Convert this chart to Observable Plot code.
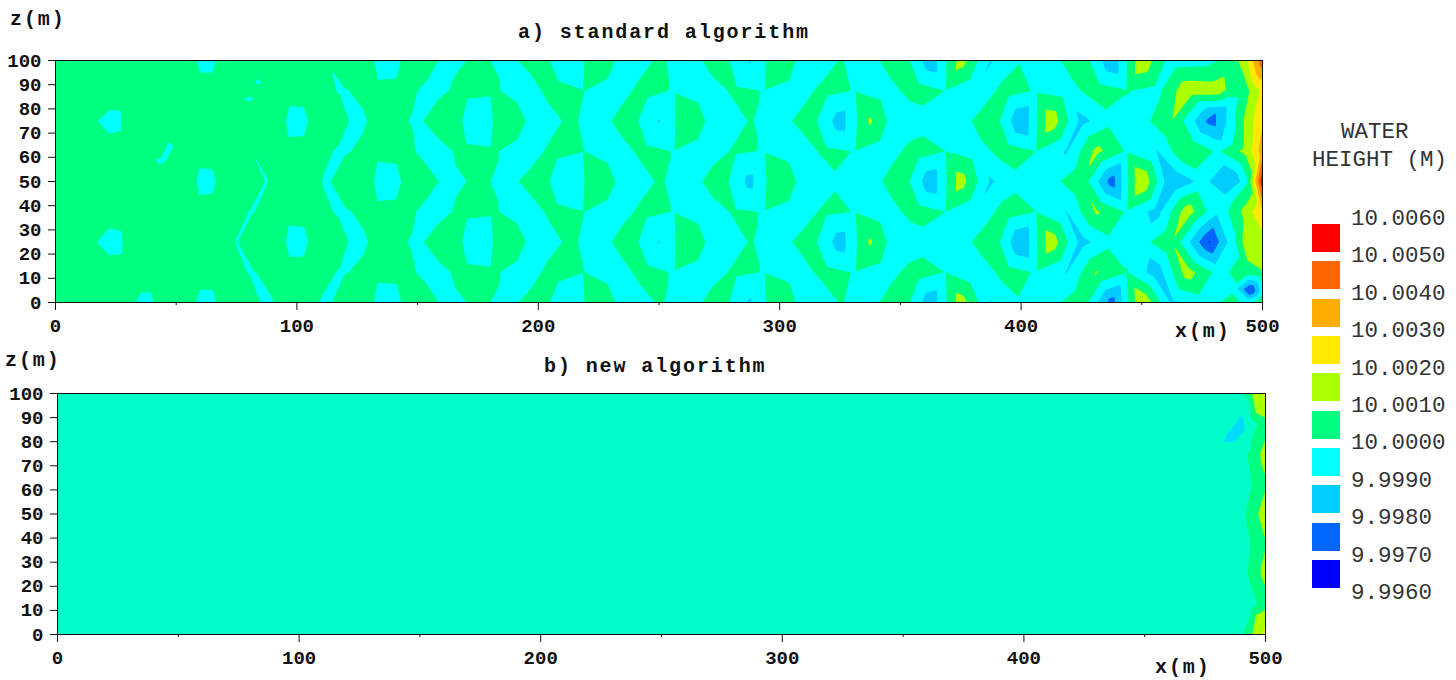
<!DOCTYPE html>
<html><head><meta charset="utf-8">
<script src="https://cdn.jsdelivr.net/npm/d3@7"></script>
<script src="https://cdn.jsdelivr.net/npm/@observablehq/plot@0.6"></script>
<style>
html,body{margin:0;padding:0;background:#fff}
#page{position:relative;width:1456px;height:680px;overflow:hidden;font-family:"Liberation Mono",monospace}
#page svg{position:absolute;background:transparent;font-family:"Liberation Mono",monospace;font-weight:bold}
.lab{position:absolute;font-weight:bold;font-size:20px;letter-spacing:1.9px;white-space:pre;line-height:20px;color:#111}
.leg{position:absolute;font-size:22.5px;line-height:22px;color:#333;white-space:pre}
.sw{position:absolute;left:1312px;width:28px;height:28px}
</style></head><body><div id="page"></div>
<script>
// Panel a: water height deviation from 10 m, in mm.
// Even rows (z = 0, 25, 50, 75, 100) sit on one column set, odd rows on a staggered one.
const evenX = [0,12.5,25,37.5,50,62.5,75,87.5,100,112.5,125,137.5,150,162.5,175,187.5,200,212.5,225,237.5,250,262.5,275,287.5,300,312.5,325,337.5,350,362.5,375,387.5,400,412.5,425,437.5,450,462.5,475,487.5,493.75,500];
const evenXDipole = [0,12.5,25,37.5,50,62.5,75,87.5,100,112.5,125,137.5,150,162.5,175,187.5,200,212.5,225,237.5,250,262.5,275,287.5,300,312.5,325,337.5,350,362.5,375,387.5,400,412.5,425,437.5,450,462.5,478,487.5,493.75,500];
const oddX = [0,6.25,18.75,31.25,43.75,56.25,68.75,81.25,93.75,106.25,118.75,131.25,143.75,156.25,168.75,181.25,193.75,206.25,218.75,231.25,243.75,256.25,268.75,281.25,293.75,306.25,318.75,331.25,343.75,356.25,368.75,381.25,393.75,406.25,418.75,431.25,443.75,456.25,468.75,481.25,493.75,500];
const z100 = [.3,.3,.3,.3,.45,-.2,.45,.4,.4,.05,.8,-.6,.75,-.33,.2,-.28,.55,-.85,.76,-.6,.15,-.44,.58,-1.1,.95,-.84,.05,-.35,.8,-1.7,1.5,-1.1,-.05,-.35,.72,-1.85,1.8,-.5,-.4,.35,2,4.7];
const z87 = [.3,.3,.25,.3,.4,.3,.3,.15,.35,.4,-.1,.35,.4,-.4,.35,.2,-.6,.4,.02,-.5,.32,-.07,-.6,.18,-.03,-.5,.3,-.05,-.5,.5,-.02,-.9,.45,-.1,-.45,.5,.05,-.3,1.7,1.6,.8,2.3];
const z75 = [.3,.1,-.15,.7,.5,.5,.5,.6,-.34,.6,-.22,.45,-.19,.86,-.93,.93,-.65,.17,-.37,.5,-1.06,.89,-.75,.05,-.32,.45,-1.51,1.15,-.95,-.5,-.47,.84,-1.95,1.7,-1.3,-.3,-.37,.98,-2.3,-.4,1.43,2.9];
const z62 = [.3,.3,.2,.3,.15,.25,.3,0,.3,.35,-.15,.35,.45,-.6,.3,.15,-.6,.28,.02,-.5,.25,-.03,-.6,.13,-.04,-.6,.2,-.03,-.6,.5,0,-.5,.5,0,-1.1,1.3,-.1,-1.05,1.03,-.15,1.45,3.6];
const z50 = [.3,.3,.3,.35,.41,-.2,.42,-.02,.5,-.1,.8,-.65,.78,-.33,.2,-.28,.53,-.85,.76,-.6,.1,-.44,.58,-1.3,1.02,-.84,-.1,-.5,.76,-1.72,1.5,-1.12,-.3,-.34,.78,-2.5,2.05,-1.95,-.7,-2.02,-.1,5.8];
const z37 = [.3,.3,.25,.35,.35,.25,.3,-.03,.3,.35,-.15,.35,.45,-.55,.3,.15,-.6,.28,.02,-.5,.25,-.03,-.6,.13,-.04,-.6,.2,-.03,-.6,.5,0,-.9,.5,0,-1.05,1.15,-.1,-1.4,1.6,-.85,1.5,3];
const z25 = [.3,.12,-.2,.7,.5,.5,-.02,.6,-.35,.6,-.25,.45,-.22,.86,-.93,.93,-.65,.17,-.37,.5,-1.06,.89,-.75,.05,-.32,.45,-1.51,1.15,-.95,-.5,-.47,.84,-2.02,1.7,-1.35,-.3,-.37,.92,-3.1,-.46,1.77,1.5];
const z12 = [.3,.3,.25,.3,.3,.3,.3,-.05,.35,.4,-.1,.35,.4,-.5,.35,.2,-.6,.4,.02,-.5,.32,-.07,-.6,.18,-.03,-.5,.3,-.05,-.5,.5,-.02,-.8,.45,-.1,-1.05,1.08,.05,-1.6,1.5,-.3,.5,.93];
const z0 = [.3,.3,.3,-.15,.45,-.22,.45,-.12,.4,-.15,.8,-.65,.78,-.33,.2,-.28,.53,-.85,.76,-.6,.1,-.44,.58,-1.15,.95,-.84,.05,-.35,.8,-1.7,1.5,-1.05,-.1,-.35,.72,-2.5,2,-1.2,-.5,.35,-.3,1.1];
// Irregular mesh points: thin patches, and near the outlet: [x, z, deviation]
const extraA = [[495,5,-3.1],[500,5,-.4],[487.5,6,-.2],[486,88,.8],[480.5,78,-2.05],[480.5,73,-2.05],[485,81,-1.05],[483,67,-1],[484,43.5,-.8],[43.5,58.5,-.06],[47,65,-.06],[80,84,-.06],[84,91,-.06]];

// Panel b: nearly flat except close to the right edge.
const bEvenX = [0,250,475,487.5,493.75,500];
const bOddX = [0,250,481.25,493.75,500];
const b100 = [0,0,.1,.2,.85,2.25];
const b87 = [0,0,.1,.3,.72];
const b75 = [0,0,.05,.1,.6,1.23];
const b62 = [0,0,.1,.45,.92];
const b50 = [0,0,.05,.1,.7,1.3];
const b37 = [0,0,.1,.5,.95];
const b25 = [0,0,.05,.1,.6,1.2];
const b12 = [0,0,.1,.3,.72];
const b0 = [0,0,.1,.2,.85,2.25];
const extraB = [[486.5,82.5,-.8],[490.5,87,-.8]];

// Levels and colours
const levelsA = [9.996,9.997,9.998,9.999,10.000,10.001,10.002,10.003,10.004,10.005];
const colorsA = ["#0000ff","#0066ff","#00ccff","#00ffff","#00ff80","#aaff00","#ffea00","#ffae00","#ff6600","#ff0000"];
const levelsB = [9.999,9.9995,10.0005,10.001,10.002];
const colorsB = ["#00dcff","#00ffc8","#00ff80","#aaff00","#ffea00"];
const legendLabels = ["10.0060","10.0050","10.0040","10.0030","10.0020","10.0010","10.0000","9.9990","9.9980","9.9970","9.9960"];
const xMajor = [0,100,200,300,400,500];
const xMinor = [50,150,250,350,450];
const yTicks = [0,10,20,30,40,50,60,70,80,90,100];

function nodes(rows, extra){
  const out=[];
  for(const [z,xs,vals] of rows) vals.forEach((d,i)=>out.push({x:xs[i],z,h:10+d/1000}));
  for(const [x,z,d] of extra) out.push({x,z,h:10+d/1000});
  return out;
}
const nodesA = nodes([[100,evenX,z100],[87.5,oddX,z87],[75,evenXDipole,z75],[62.5,oddX,z62],[50,evenX,z50],[37.5,oddX,z37],[25,evenXDipole,z25],[12.5,oddX,z12],[0,evenX,z0]],extraA);
const nodesB = nodes([[100,bEvenX,b100],[87.5,bOddX,b87],[75,bEvenX,b75],[62.5,bOddX,b62],[50,bEvenX,b50],[37.5,bOddX,b37],[25,bEvenX,b25],[12.5,bOddX,b12],[0,bEvenX,b0]],extraB);

function panel(data,levels,colors,m){
  const svg = Plot.plot({
    width:1456,height:340,marginLeft:m.left,marginRight:m.right,marginTop:m.top,marginBottom:m.bottom,
    style:{fontFamily:'"Liberation Mono",monospace',fontWeight:"bold",background:"transparent",color:"#111"},
    x:{domain:[0,500]},y:{domain:[0,100]},
    color:{type:"ordinal",domain:levels,range:colors},
    marks:[
      Plot.contour(data,{x:"x",y:"z",fill:"h",thresholds:levels,interpolate:"barycentric",pixelSize:1,stroke:"none",clip:true}),
      Plot.frame({stroke:"#111",strokeWidth:1}),
      Plot.axisX(xMajor,{anchor:"bottom",tickSize:8,tickPadding:8,fontSize:19,label:null,tickFormat:d=>String(d),stroke:"#111",fill:"#111"}),
      Plot.axisX(xMinor,{anchor:"bottom",tickSize:3,label:null,tickFormat:()=>"",stroke:"#111"}),
      Plot.axisY(yTicks,{anchor:"left",tickSize:7,tickPadding:7,fontSize:19,label:null,tickFormat:d=>String(d),stroke:"#111",fill:"#111"})
    ]
  });
  svg.style.left="0px"; svg.style.top=m.y+"px";
  return svg;
}
const page=document.getElementById("page");
page.append(panel(nodesA,levelsA,colorsA,{left:55,right:194,top:60,bottom:38,y:0}));
page.append(panel(nodesB,levelsB,colorsB,{left:57,right:191,top:53,bottom:46,y:340}));

function put(cls,text,x,y){const d=document.createElement("div");d.className=cls;d.textContent=text;d.style.left=x+"px";d.style.top=y+"px";page.append(d);return d;}
put("lab","z(m)",10,10);
put("lab","a) standard algorithm",518,23);
put("lab","x(m)",1175,322);
put("lab","z(m)",5,351);
put("lab","b) new algorithm",544,357);
put("lab","x(m)",1155,658);

put("leg","WATER",1341,121);
put("leg","HEIGHT (M)",1312,149);
legendLabels.forEach((s,i)=>{ put("leg",s,1351,208+i*37.4); });
colorsA.slice().reverse().forEach((c,i)=>{
  const d=document.createElement("div");d.className="sw";d.style.top=(224+i*37.33)+"px";d.style.background=c;page.append(d);
});
</script></body></html>
